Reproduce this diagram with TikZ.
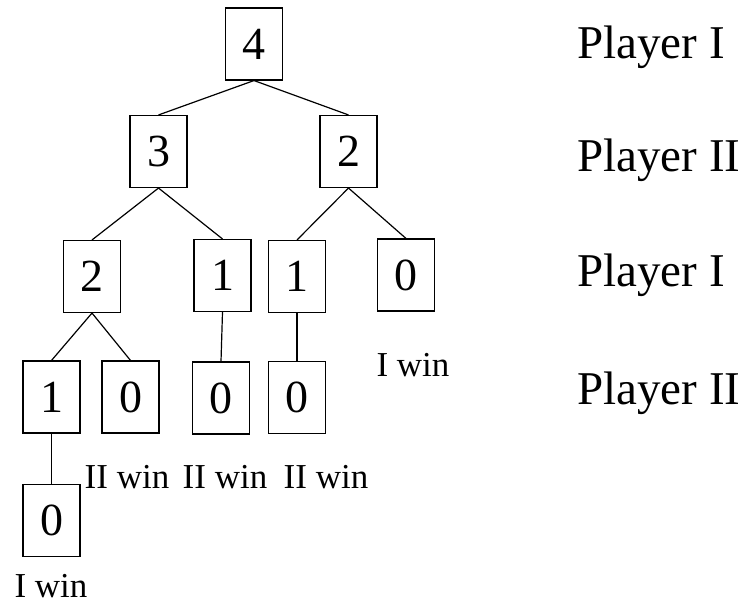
\documentclass[tikz,border=0pt]{standalone}
\usepackage{fontspec}
\setmainfont{Liberation Serif}
\begin{document}
\begin{tikzpicture}[x=1pt,y=-1pt,
  box/.style={draw, line width=1.1pt, rectangle, minimum width=57pt, minimum height=72pt, inner sep=0pt, font=\fontsize{46}{46}\selectfont},
  lbl/.style={inner sep=0pt, font=\fontsize{47}{47}\selectfont},
  win/.style={inner sep=0pt, font=\fontsize{35}{35}\selectfont},
  edge/.style={line width=1.2pt}]
\useasboundingbox (0,0) rectangle (746,604);
\node[box] (n4) at (254,44) {4};
\node[box] (n3) at (158.5,151.5) {3};
\node[box] (n2) at (348.5,151.5) {2};
\node[box] (a2) at (92,276.5) {2};
\node[box] (a1) at (222.5,275.5) {1};
\node[box] (b1) at (297,276.5) {1};
\node[box] (b0) at (406,275) {0};
\node[box] (c1) at (51.5,397) {1};
\node[box] (c0) at (130.5,397) {0};
\node[box] (d0) at (221,398) {0};
\node[box] (e0) at (297,397.5) {0};
\node[box] (f0) at (51.5,520.5) {0};
\draw[edge] (n4.south) -- (n3.north);
\draw[edge] (n4.south) -- (n2.north);
\draw[edge] (n3.south) -- (a2.north);
\draw[edge] (n3.south) -- (a1.north);
\draw[edge] (n2.south) -- (b1.north);
\draw[edge] (n2.south) -- (b0.north);
\draw[edge] (a2.south) -- (c1.north);
\draw[edge] (a2.south) -- (c0.north);
\draw[edge] (a1.south) -- (d0.north);
\draw[edge] (b1.south) -- (e0.north);
\draw[edge] (c1.south) -- (f0.north);
\node[lbl, anchor=west] (p1) at (577,47) {Player I};
\node[lbl, anchor=west] (p2) at (577,160) {Player II};
\node[lbl, anchor=west] (p3) at (577,275) {Player I};
\node[lbl, anchor=west] (p4) at (577,393) {Player II};
\node[win] (w1) at (413,365) {I win};
\node[win] (w2) at (127,477) {II win};
\node[win] (w3) at (225,477) {II win};
\node[win] (w4) at (326,477) {II win};
\node[win] (w5) at (51,586) {I win};
\end{tikzpicture}
\end{document}
